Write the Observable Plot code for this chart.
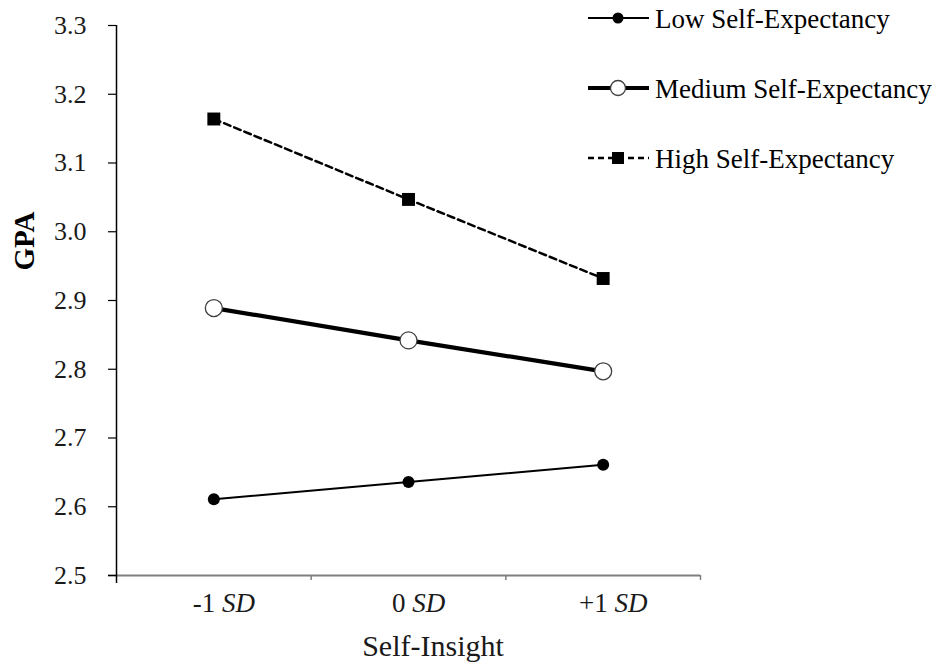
<!DOCTYPE html>
<html><head><meta charset="utf-8">
<script src="https://cdn.jsdelivr.net/npm/d3@7"></script>
<script src="https://cdn.jsdelivr.net/npm/@observablehq/plot@0.6"></script>
<style>
body{margin:0;background:#fff}
#chart{position:relative;width:939px;height:666px}
</style>
</head><body><div id="chart"></div>
<script>
// ---- data ----
const xPos = [-1, 0, 1];                       // Self-Insight in SD units
const xLabels = ["-1 SD", "0 SD", "+1 SD"];
const xDomain = [-1.5, 1.5];
const xBoundaries = [-0.5, 0.5, 1.5];
const series = ["Low Self-Expectancy", "Medium Self-Expectancy", "High Self-Expectancy"];
const lowGPA = [2.611, 2.636, 2.661];
const mediumGPA = [2.889, 2.842, 2.797];
const highGPA = [3.164, 3.047, 2.932];
const yTicks = [2.5, 2.6, 2.7, 2.8, 2.9, 3.0, 3.1, 3.2, 3.3];
const xTitle = "Self-Insight";
const yTitle = "GPA";

const toRows = (vals, s) => vals.map((v, i) => ({series: series[s], x: xPos[i], gpa: v}));
const low = toRows(lowGPA, 0);
const medium = toRows(mediumGPA, 1);
const high = toRows(highGPA, 2);

const font = "'Liberation Serif', 'Times New Roman', serif";

const svg = Plot.plot({
  width: 939, height: 666,
  marginLeft: 116, marginRight: 239, marginTop: 25, marginBottom: 91,
  style: {fontFamily: font, background: "white", color: "black", overflow: "visible"},
  x: {type: "linear", domain: xDomain},
  y: {domain: [yTicks[0], yTicks[yTicks.length - 1]]},
  marks: [
    Plot.ruleY([yTicks[0]], {stroke: "#7f7f7f", strokeWidth: 2, insetLeft: -8}),
    Plot.ruleX(xBoundaries, {y1: yTicks[0], y2: yTicks[0], insetBottom: -5, stroke: "#7f7f7f", strokeWidth: 1.5}),
    Plot.axisX({ticks: xPos, tickSize: 0, tickPadding: 17, tickFormat: d => xLabels[xPos.indexOf(d)],
      fontSize: 27, fill: "#1a1a1a", dx: 10, label: null}),
    Plot.axisY({ticks: yTicks, tickSize: 8, tickPadding: 22, tickFormat: d3.format(".1f"),
      fontSize: 26, fill: "#1a1a1a", stroke: "black", strokeWidth: 1.2, label: null}),
    Plot.ruleX([xDomain[0]], {insetBottom: -8, stroke: "black", strokeWidth: 1.5}),
    Plot.line(low, {x: "x", y: "gpa", stroke: "black", strokeWidth: 2}),
    Plot.line(medium, {x: "x", y: "gpa", stroke: "black", strokeWidth: 4.2}),
    Plot.line(high, {x: "x", y: "gpa", stroke: "black", strokeWidth: 2.5, strokeDasharray: "7,4"}),
    Plot.dot(low, {x: "x", y: "gpa", r: 6, fill: "black", stroke: "none"}),
    Plot.dot(medium, {x: "x", y: "gpa", r: 8.5, fill: "white", stroke: "#404040", strokeWidth: 1.3}),
    Plot.dot(high, {x: "x", y: "gpa", symbol: "square", r: 7.3, fill: "black", stroke: "none"})
  ]
});

const s = d3.select(svg);

// italic "SD" in x tick labels
s.selectAll("text").each(function() {
  const t = this.textContent;
  if (t.endsWith(" SD")) {
    const el = d3.select(this);
    el.text(null);
    el.append("tspan").text(t.slice(0, -2));
    el.append("tspan").attr("font-style", "italic").text("SD");
  }
});

// axis titles
s.append("text").attr("x", 433).attr("y", 656).attr("text-anchor", "middle")
  .attr("font-size", 30).attr("fill", "#1a1a1a").text(xTitle);
s.append("text").attr("transform", "translate(34,241) rotate(-90)").attr("text-anchor", "middle")
  .attr("font-size", 29).attr("font-weight", "bold").attr("fill", "black").text(yTitle);

// legend
const lg = s.append("g").attr("font-size", 27).attr("text-anchor", "start");
const ys = [18, 88, 158];
const styles = [
  {w: 2, dash: null}, {w: 4.2, dash: null}, {w: 2.5, dash: "6,4"}
];
series.forEach((name, i) => {
  const g = lg.append("g").attr("transform", `translate(0,${ys[i]})`);
  g.append("line").attr("x1", 588).attr("x2", 649).attr("y1", 0).attr("y2", 0)
    .attr("stroke", "black").attr("stroke-width", styles[i].w)
    .attr("stroke-dasharray", styles[i].dash);
  if (i === 0) g.append("circle").attr("cx", 618).attr("cy", 0).attr("r", 5.5).attr("fill", "black");
  if (i === 1) g.append("circle").attr("cx", 618).attr("cy", 0).attr("r", 7.5).attr("fill", "white")
    .attr("stroke", "#404040").attr("stroke-width", 1.3);
  if (i === 2) g.append("rect").attr("x", 612).attr("y", -6).attr("width", 12).attr("height", 12).attr("fill", "black");
  g.append("text").attr("x", 655).attr("y", 9.5).attr("text-anchor", "start").attr("fill", "black").text(name);
});

document.getElementById("chart").appendChild(svg);
</script>
</body></html>
